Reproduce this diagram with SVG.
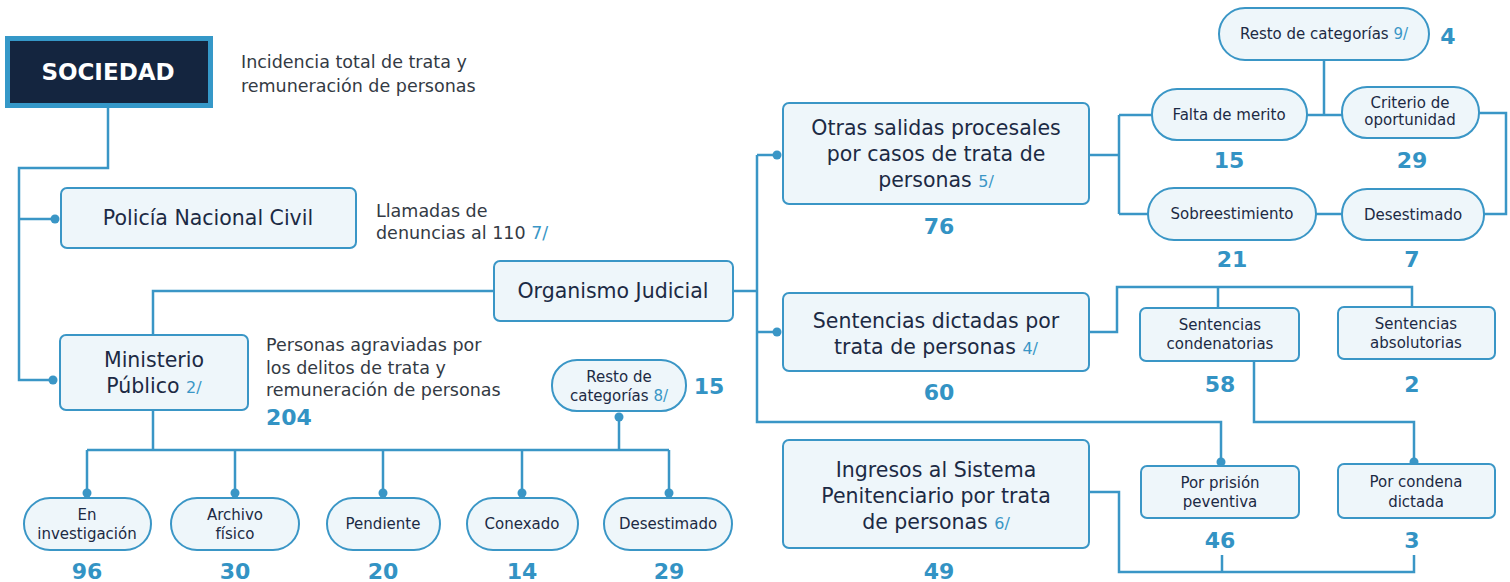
<svg xmlns="http://www.w3.org/2000/svg" width="1510" height="582" viewBox="0 0 1510 582">
<style>
.bx{fill:#eef6fa;stroke:#3a96c6;stroke-width:2}
.t{font-family:"DejaVu Sans","Liberation Sans",sans-serif;fill:#1c2a44;text-anchor:middle}
.b{font-size:20.5px}
.p{font-size:15px}
.a{font-family:"DejaVu Sans","Liberation Sans",sans-serif;fill:#333a44;font-size:17.5px}
.f{fill:#3a96c6}
.n{font-family:"DejaVu Sans","Liberation Sans",sans-serif;font-weight:bold;font-size:22px;fill:#3393c4;text-anchor:middle}
.c{fill:none;stroke:#3a96c6;stroke-width:2.5}
.d{fill:#3a96c6}
</style>
<rect width="1510" height="582" fill="#ffffff"/>
<g id="connectors">
<path class="c" d="M108,107 V168 H19 V380 H53 M19,219 H55"/>
<path class="c" d="M153,335 V291 H494"/>
<path class="c" d="M153,410 V450 M87,450 H669 M87,450 V493 M235,450 V493 M383,450 V493 M522,450 V493 M669,450 V493 M619,417 V450"/>
<path class="c" d="M733,291 H757 M757,155 V422 H1221 V462 M757,155 H777 M757,332 H777"/>
<path class="c" d="M1089,155 H1119 M1119,115 V214 M1119,115 H1152 M1119,214 H1148 M1307,115 H1342 M1324,60 V115 M1479,113 H1506 V214 H1484 M1316,214 H1342"/>
<path class="c" d="M1089,332 H1117 V287 H1412 V307 M1218,287 V308 M1254,361 V422 H1414 V462"/>
<path class="c" d="M1089,492 H1119 V572 H1414 V555 M1222,572 V555"/>
<circle class="d" cx="55" cy="219" r="4.5"/>
<circle class="d" cx="53" cy="380" r="4.5"/>
<circle class="d" cx="777" cy="155" r="4.5"/>
<circle class="d" cx="777" cy="332" r="4.5"/>
<circle class="d" cx="1221" cy="462" r="4.5"/>
<circle class="d" cx="1414" cy="462" r="4.5"/>
<circle class="d" cx="87" cy="493" r="4.5"/>
<circle class="d" cx="235" cy="493" r="4.5"/>
<circle class="d" cx="383" cy="493" r="4.5"/>
<circle class="d" cx="522" cy="493" r="4.5"/>
<circle class="d" cx="669" cy="493" r="4.5"/>
<circle class="d" cx="619" cy="417" r="4.5"/>
</g>
<g id="sociedad">
<rect x="7.5" y="38.5" width="203" height="67" fill="#14253f" stroke="#3598c8" stroke-width="5"/>
<text x="108" y="80" font-family="DejaVu Sans,Liberation Sans,sans-serif" font-size="23" font-weight="bold" fill="#ffffff" text-anchor="middle">SOCIEDAD</text>
<text class="a" x="241" y="68">Incidencia total de trata y</text>
<text class="a" x="241" y="92">remuneración de personas</text>
</g>
<g id="pnc">
<rect class="bx" x="61" y="188" width="295" height="60" rx="6"/>
<text class="t b" x="208" y="225">Policía Nacional Civil</text>
<text class="a" x="376" y="217">Llamadas de</text>
<text class="a" x="376" y="239">denuncias al 110 <tspan class="f">7/</tspan></text>
</g>
<g id="mp">
<rect class="bx" x="60" y="335" width="188" height="75" rx="6"/>
<text class="t b" x="154" y="367">Ministerio</text>
<text class="t b" x="154" y="393">Público <tspan class="f" font-size="16">2/</tspan></text>
<text class="a" x="266" y="351">Personas agraviadas por</text>
<text class="a" x="266" y="374">los delitos de trata y</text>
<text class="a" x="266" y="396">remuneración de personas</text>
<text class="n" x="266" y="425" style="text-anchor:start">204</text>
</g>
<g id="oj">
<rect class="bx" x="494" y="261" width="239" height="60" rx="6"/>
<text class="t b" x="613" y="298">Organismo Judicial</text>
</g>
<g id="mp-resto">
<rect class="bx" x="552" y="360" width="134" height="51" rx="25"/>
<text class="t p" x="619" y="382">Resto de</text>
<text class="t p" x="619" y="401">categorías <tspan class="f">8/</tspan></text>
<text class="n" x="709" y="394">15</text>
</g>
<g id="mp-investigacion">
<rect class="bx" x="24" y="498" width="127" height="52" rx="26"/>
<text class="t p" x="87" y="520">En</text>
<text class="t p" x="87" y="539">investigación</text>
<text class="n" x="87" y="579">96</text>
</g>
<g id="mp-archivo">
<rect class="bx" x="171" y="498" width="128" height="52" rx="26"/>
<text class="t p" x="235" y="520">Archivo</text>
<text class="t p" x="235" y="539">físico</text>
<text class="n" x="235" y="579">30</text>
</g>
<g id="mp-pendiente">
<rect class="bx" x="327" y="498" width="113" height="52" rx="26"/>
<text class="t p" x="383" y="529">Pendiente</text>
<text class="n" x="383" y="579">20</text>
</g>
<g id="mp-conexado">
<rect class="bx" x="467" y="498" width="111" height="52" rx="26"/>
<text class="t p" x="522" y="529">Conexado</text>
<text class="n" x="522" y="579">14</text>
</g>
<g id="mp-desestimado">
<rect class="bx" x="604" y="498" width="128" height="52" rx="26"/>
<text class="t p" x="668" y="529">Desestimado</text>
<text class="n" x="669" y="579">29</text>
</g>
<g id="otras">
<rect class="bx" x="783" y="103" width="306" height="101" rx="6"/>
<text class="t b" x="936" y="135">Otras salidas procesales</text>
<text class="t b" x="936" y="161">por casos de trata de</text>
<text class="t b" x="936" y="187">personas <tspan class="f" font-size="16">5/</tspan></text>
<text class="n" x="939" y="234">76</text>
</g>
<g id="ot-resto">
<rect class="bx" x="1219" y="8" width="210" height="52" rx="26"/>
<text class="t p" x="1324" y="39">Resto de categorías <tspan class="f">9/</tspan></text>
<text class="n" x="1448" y="44">4</text>
</g>
<g id="ot-falta">
<rect class="bx" x="1152" y="89" width="155" height="51" rx="25"/>
<text class="t p" x="1229" y="120">Falta de merito</text>
<text class="n" x="1229" y="168">15</text>
</g>
<g id="ot-criterio">
<rect class="bx" x="1342" y="87" width="137" height="51" rx="25"/>
<text class="t p" x="1410" y="108">Criterio de</text>
<text class="t p" x="1410" y="125">oportunidad</text>
<text class="n" x="1412" y="168">29</text>
</g>
<g id="ot-sobre">
<rect class="bx" x="1148" y="188" width="168" height="52" rx="26"/>
<text class="t p" x="1232" y="219">Sobreestimiento</text>
<text class="n" x="1232" y="267">21</text>
</g>
<g id="ot-desestimado">
<rect class="bx" x="1342" y="189" width="142" height="51" rx="25"/>
<text class="t p" x="1413" y="220">Desestimado</text>
<text class="n" x="1412" y="267">7</text>
</g>
<g id="sentencias">
<rect class="bx" x="783" y="293" width="306" height="78" rx="6"/>
<text class="t b" x="936" y="328">Sentencias dictadas por</text>
<text class="t b" x="936" y="354">trata de personas <tspan class="f" font-size="16">4/</tspan></text>
<text class="n" x="939" y="400">60</text>
</g>
<g id="se-condenatorias">
<rect class="bx" x="1140" y="308" width="159" height="53" rx="6"/>
<text class="t p" x="1220" y="330">Sentencias</text>
<text class="t p" x="1220" y="349">condenatorias</text>
<text class="n" x="1220" y="392">58</text>
</g>
<g id="se-absolutorias">
<rect class="bx" x="1338" y="307" width="157" height="52" rx="6"/>
<text class="t p" x="1416" y="329">Sentencias</text>
<text class="t p" x="1416" y="348">absolutorias</text>
<text class="n" x="1412" y="392">2</text>
</g>
<g id="ingresos">
<rect class="bx" x="783" y="440" width="306" height="108" rx="6"/>
<text class="t b" x="936" y="477">Ingresos al Sistema</text>
<text class="t b" x="936" y="503">Penitenciario por trata</text>
<text class="t b" x="936" y="529">de personas <tspan class="f" font-size="16">6/</tspan></text>
<text class="n" x="939" y="579">49</text>
</g>
<g id="in-prision">
<rect class="bx" x="1141" y="466" width="158" height="52" rx="6"/>
<text class="t p" x="1220" y="488">Por prisión</text>
<text class="t p" x="1220" y="507">peventiva</text>
<text class="n" x="1220" y="548">46</text>
</g>
<g id="in-condena">
<rect class="bx" x="1338" y="464" width="157" height="54" rx="6"/>
<text class="t p" x="1416" y="487">Por condena</text>
<text class="t p" x="1416" y="507">dictada</text>
<text class="n" x="1412" y="548">3</text>
</g>
</svg>
